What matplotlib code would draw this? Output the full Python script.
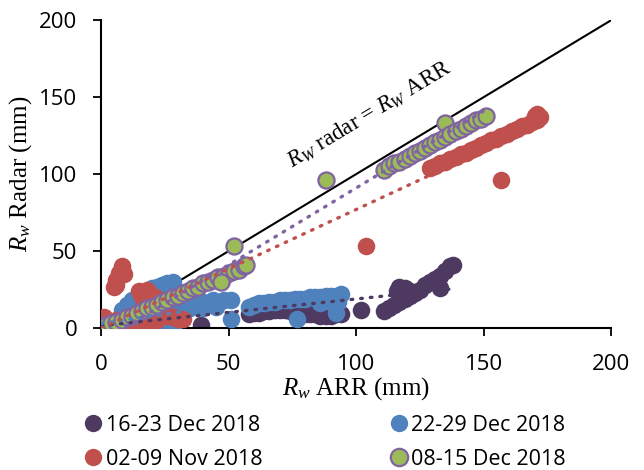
import matplotlib
matplotlib.use('Agg')
import matplotlib.pyplot as plt
from matplotlib.lines import Line2D

plt.rcParams['mathtext.fontset'] = 'custom'
plt.rcParams['mathtext.rm'] = 'Liberation Serif'
plt.rcParams['mathtext.it'] = 'Liberation Serif:italic'

# 16-23 Dec 2018
dec16_x = [0, 2, 4, 6, 8, 10, 12, 14, 16, 18, 20, 22, 25, 28, 30, 39,
           58, 60, 62, 64, 66, 68, 70, 72, 74, 76, 78, 80, 82, 84, 86, 88, 90, 92, 94, 68, 72, 76,
           102, 111, 113, 115, 117, 119, 121, 123, 125, 127, 129, 131, 133, 135, 137, 138,
           116, 117, 119, 121, 133]
dec16_y = [0, 1, 2, 3, 4, 5, 6, 6, 7, 7, 8, 8, 9, 9, 10, 2,
           9, 10, 10, 11, 11, 12, 12, 12, 11, 10, 10, 9, 9, 9, 8, 8, 8, 9, 9, 14, 15, 14,
           12, 11, 13, 15, 17, 19, 21, 23, 25, 28, 30, 32, 34, 37, 40, 41,
           24, 27, 26, 24, 26]

# 22-29 Dec 2018
dec22_x = [0, 2, 4, 6, 8, 10, 12, 14, 16, 18, 20, 24, 27,
           8, 10, 12, 14, 16, 18, 20, 22, 24, 26, 28, 27, 25, 20, 18,
           20, 24, 28, 32, 36, 40, 44, 48, 51, 30, 35, 40, 45,
           51, 28, 77, 92,
           58, 60, 62, 64, 66, 68, 70, 72, 74, 76, 78, 80, 82, 84, 86, 88, 90, 92, 94, 93, 90, 86]
dec22_y = [0, 0, 1, 1, 1, 2, 2, 3, 3, 3, 4, 2, 1,
           12, 15, 18, 20, 22, 24, 26, 27, 28, 29, 30, 27, 24, 20, 17,
           14, 15, 16, 16, 17, 17, 18, 18, 18, 13, 13, 13, 14,
           6, 0, 6, 10,
           14, 15, 16, 16, 17, 17, 18, 18, 18, 19, 19, 19, 20, 20, 20, 21, 21, 21, 22, 17, 17, 16]

# 02-09 Nov 2018
nov02_x = [0, 0, 1, 2, 3,
           5, 6, 6, 7, 7, 8, 8, 9,
           15, 17, 19, 21, 23, 25, 18, 16,
           6, 10, 14, 18, 22, 26, 28, 30, 32,
           104, 157,
           129, 131, 133, 135, 137, 139, 141, 143, 145, 147, 149, 151, 153, 155, 157,
           159, 161, 163, 165, 167, 169, 171, 172, 171, 170]
nov02_y = [3, 6, 7, 5, 3,
           27, 28, 31, 34, 36, 38, 40, 35,
           24, 23, 22, 20, 18, 17, 25, 20,
           5, 5, 4, 4, 5, 8, 7, 6, 6,
           53, 96,
           104, 105, 107, 108, 110, 111, 113, 114, 116, 117, 119, 120, 122, 123, 125,
           126, 128, 129, 131, 132, 134, 135, 137, 139, 138]

# 08-15 Dec 2018
dec08_x = [0, 2, 4, 6, 8, 10, 12, 14, 16, 18, 20, 22, 24, 26, 28, 30, 32, 34, 36, 38,
           40, 42, 44, 46, 48, 50, 52, 54, 56, 57, 47,
           52, 88, 135,
           111, 113, 115, 117, 119, 121, 123, 125, 127, 129, 131, 133, 135, 137, 139,
           141, 143, 145, 147, 149, 151]
dec08_y = [1, 2, 3, 4, 5, 7, 8, 10, 11, 13, 14, 15, 17, 18, 20, 21, 23, 24, 26, 27,
           29, 30, 31, 33, 34, 36, 37, 38, 40, 41, 30,
           53, 96, 133,
           103, 105, 107, 108, 110, 112, 114, 115, 117, 119, 121, 122, 124, 126, 128,
           129, 131, 133, 135, 136, 138]

# dotted trendlines (end points)
trend_dec16 = ([0, 138], [1.5, 25.5])
trend_dec22 = ([0, 95], [3, 26])
trend_nov02 = ([0, 174], [0, 134])
trend_dec08 = ([0, 151], [-9, 142])

C_DEC16 = '#4E3A61'
C_DEC22 = '#4F81BD'
C_NOV02 = '#C0504D'
C_DEC08 = '#9BBB59'
C_DEC08_EDGE = '#8064A2'

fig = plt.figure(figsize=(6.44, 4.70), dpi=100)
ax = fig.add_axes([0.157, 0.302, 0.792, 0.655])

ax.plot([0, 200], [0, 200], color='black', lw=1.5, zorder=1)

S = 160
ax.scatter(dec16_x, dec16_y, s=S, color=C_DEC16, lw=0, zorder=2)
ax.scatter(dec22_x, dec22_y, s=S, color=C_DEC22, lw=0, zorder=3)
ax.scatter(nov02_x, nov02_y, s=S, color=C_NOV02, lw=0, zorder=4)
ax.scatter(dec08_x, dec08_y, s=135, facecolor=C_DEC08, edgecolor=C_DEC08_EDGE, lw=1.6, zorder=5)

dots = dict(lw=2.4, linestyle=(0, (0.5, 2.4)), dash_capstyle='round', zorder=6)
ax.plot(*trend_dec16, color=C_DEC16, **dots)
ax.plot(*trend_dec22, color=C_DEC22, **dots)
ax.plot(*trend_nov02, color=C_NOV02, **dots)
ax.plot(*trend_dec08, color=C_DEC08_EDGE, **dots)

ax.text(105, 139, r'$R_W$ radar = $R_W$ ARR', rotation=31.1, rotation_mode='anchor',
        ha='center', va='center', fontsize=16.5, family='Liberation Serif')

ax.set_xlim(0, 200)
ax.set_ylim(0, 200)
ax.set_xticks([0, 50, 100, 150, 200])
ax.set_yticks([0, 50, 100, 150, 200])
for s in ['top', 'right']:
    ax.spines[s].set_visible(False)
for s in ['left', 'bottom']:
    ax.spines[s].set_linewidth(1.5)
ax.tick_params(direction='out', length=6, width=1.3, labelsize=16)
ax.tick_params(axis='x', pad=13)
ax.tick_params(axis='y', pad=11)
for lab in ax.get_xticklabels() + ax.get_yticklabels():
    lab.set_family('Open Sans')

ax.set_xlabel(r'$R_w$ ARR (mm)', fontsize=18, family='Liberation Serif', labelpad=0)
ax.set_ylabel(r'$R_w$ Radar (mm)', fontsize=18, family='Liberation Serif', labelpad=4)

def handle(face, edge, lw):
    return Line2D([], [], linestyle='none', marker='o', markersize=12.5,
                  markerfacecolor=face, markeredgecolor=edge, markeredgewidth=lw)

handles = [handle(C_DEC16, C_DEC16, 0), handle(C_NOV02, C_NOV02, 0),
           handle(C_DEC22, C_DEC22, 0), handle(C_DEC08, C_DEC08_EDGE, 1.6)]
labels = ['16-23 Dec 2018', '02-09 Nov 2018', '22-29 Dec 2018', '08-15 Dec 2018']
fig.legend(handles, labels, ncol=2, loc='upper left', bbox_to_anchor=(0.135, 0.118),
           frameon=False, prop={'family': 'Open Sans', 'size': 15.5},
           handlelength=0.6, handletextpad=0.3, columnspacing=6.0, labelspacing=0.62,
           borderpad=0, borderaxespad=0)

fig.savefig('out.png', dpi=100)
